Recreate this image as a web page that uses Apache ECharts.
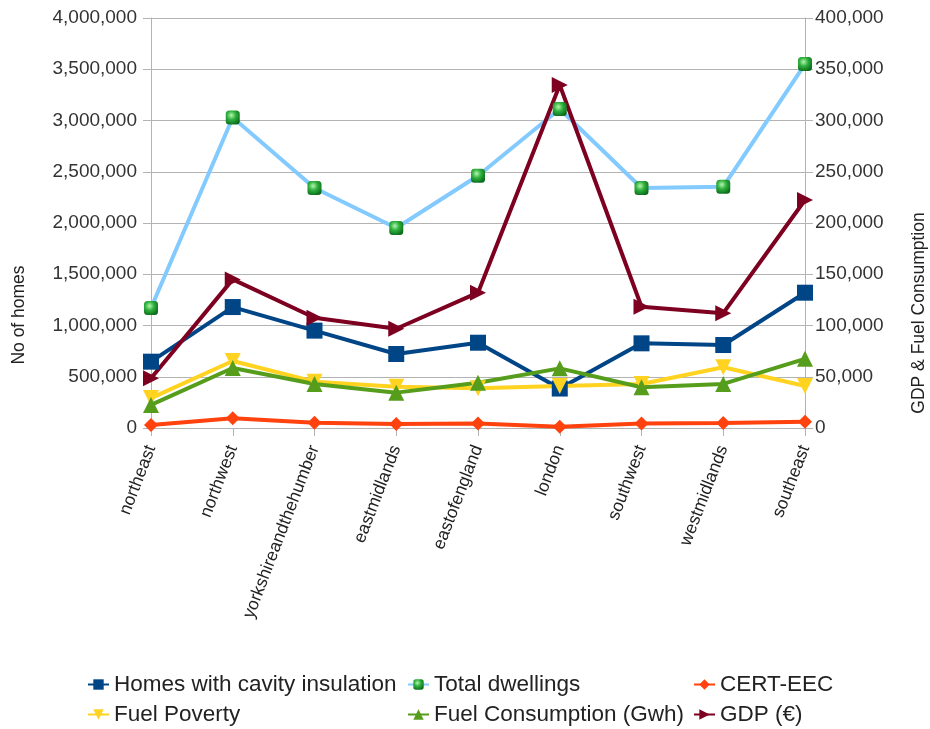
<!DOCTYPE html>
<html><head><meta charset="utf-8">
<script src="https://cdn.jsdelivr.net/npm/echarts@6/dist/echarts.min.js"></script>
<style>html,body{margin:0;padding:0;background:#fff}#c{width:930px;height:729px}</style>
</head><body><div id="c"></div>
<script>
const categories = ['northeast','northwest','yorkshireandthehumber','eastmidlands','eastofengland','london','southwest','westmidlands','southeast'];
const homesCavity = [647000,1180000,950000,722000,832000,385000,826000,810000,1320000];
const totalDwellings = [1170000,3030000,2341000,1951000,2461000,3112000,2341000,2354000,3551000];
const certEec = [29000,95000,52000,39000,45000,13000,45000,48000,61000];
const fuelPoverty = [292000,654000,452000,403000,387000,410000,429000,592000,410000];
const fuelConsumption = [22500,58500,43000,34500,44200,58200,39700,43000,67500];
const gdp = [48500,145000,107500,96800,132000,334600,118300,112000,222400];
const leftTicks = [0, 4000000, 500000];
const rightTicks = [0, 400000, 50000];
const seriesNames = ['Homes with cavity insulation','Total dwellings','CERT-EEC','Fuel Poverty','Fuel Consumption (Gwh)','GDP (€)'];

const chart = echarts.init(document.getElementById('c'));
const fmt = v => v.toLocaleString('en-US');
const font = 'Liberation Sans';
const sphere = {type:'radial',x:0.4,y:0.35,r:0.7,colorStops:[{offset:0,color:'#b6f5b0'},{offset:0.45,color:'#2fb13e'},{offset:1,color:'#0a6a1a'}]};
function line(name, data, color, symbol, size, yIdx, extra){
  return Object.assign({
    name, type:'line', data, yAxisIndex:yIdx, symbol, symbolSize:size,
    lineStyle:{color, width:4}, itemStyle:{color}, showSymbol:true, animation:false,
    emphasis:{disabled:true}
  }, extra||{});
}
const legendText = {fontFamily:font, fontSize:22.5, color:'#222'};
const legPos = [[87,673],[407,673],[693,673],[87,703],[407,703],[693,703]];
const legends = seriesNames.map((n,i)=>({left:legPos[i][0], top:legPos[i][1], padding:0, itemWidth:21, itemHeight:13, itemGap:5, textStyle:legendText, data:[n]}));
chart.setOption({
  animation:false,
  textStyle:{fontFamily:font},
  grid:{left:151, right:125, top:18, bottom:301},
  xAxis:{type:'category', data:categories, boundaryGap:false,
    axisLine:{lineStyle:{color:'#b3b3b3'}},
    axisTick:{show:true, length:8, lineStyle:{color:'#b3b3b3'}},
    splitLine:{show:false},
    axisLabel:{rotate:69, fontSize:17.5, color:'#222', margin:18, interval:0, fontFamily:font}},
  yAxis:[
    {type:'value', min:leftTicks[0], max:leftTicks[1], interval:leftTicks[2],
     axisLine:{show:true, lineStyle:{color:'#b3b3b3'}}, axisTick:{show:true, length:8, lineStyle:{color:'#b3b3b3'}},
     splitLine:{lineStyle:{color:'#b3b3b3'}},
     axisLabel:{formatter:fmt, fontSize:19, color:'#333', margin:14, fontFamily:font}},
    {type:'value', min:rightTicks[0], max:rightTicks[1], interval:rightTicks[2], position:'right',
     axisLine:{show:true, lineStyle:{color:'#b3b3b3'}}, axisTick:{show:true, length:8, lineStyle:{color:'#b3b3b3'}},
     splitLine:{show:false},
     axisLabel:{formatter:fmt, fontSize:19, color:'#333', margin:10, fontFamily:font}}
  ],
  legend:legends,
  graphic:[
    {type:'text', rotation:Math.PI/2, x:19, y:315, style:{text:'No of homes', font:'17.5px "Liberation Sans"', fill:'#222', textAlign:'center', textVerticalAlign:'middle'}},
    {type:'text', rotation:Math.PI/2, x:919, y:313, style:{text:'GDP & Fuel Consumption', font:'17.5px "Liberation Sans"', fill:'#222', textAlign:'center', textVerticalAlign:'middle'}}
  ],
  series:[
    line(seriesNames[0], homesCavity, '#004586', 'rect', 16, 0),
    line(seriesNames[1], totalDwellings, '#83caff', 'roundRect', 14, 0, {itemStyle:{color:sphere}}),
    line(seriesNames[2], certEec, '#ff420e', 'diamond', 14, 0),
    line(seriesNames[3], fuelPoverty, '#ffd320', 'triangle', 16, 0, {symbolRotate:180}),
    line(seriesNames[4], fuelConsumption, '#579d1c', 'triangle', 16, 1),
    line(seriesNames[5], gdp, '#7e0021', 'triangle', 16, 1, {symbolRotate:-90})
  ]
});
</script></body></html>
